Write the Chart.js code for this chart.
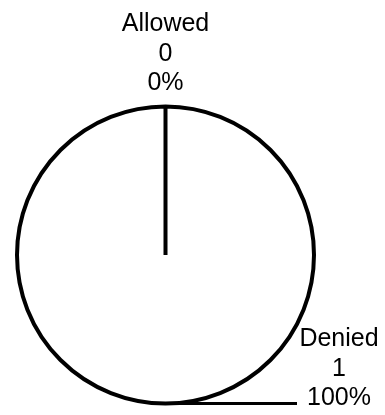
<!DOCTYPE html>
<html>
<head>
<meta charset="utf-8">
<script src="https://cdn.jsdelivr.net/npm/chart.js@4/dist/chart.umd.min.js"></script>
<style>
  html, body { margin: 0; padding: 0; background: #fff; }
  #wrap { width: 385px; height: 415px; }
</style>
</head>
<body>
<div id="wrap"><canvas id="pieChart"></canvas></div>
<script>
const categories = ['Allowed', 'Denied'];
const counts = [0, 1];

// labels: name / count / percent, stacked in three lines
const pieLabels = {
  id: 'pieLabels',
  afterDatasetsDraw(chart) {
    const { ctx } = chart;
    const meta = chart.getDatasetMeta(0);
    const total = counts.reduce((a, b) => a + b, 0);
    ctx.save();
    ctx.font = '25px "Liberation Sans", Arial, sans-serif';
    ctx.fillStyle = '#000';
    ctx.strokeStyle = '#000';
    ctx.textAlign = 'center';
    ctx.textBaseline = 'alphabetic';
    meta.data.forEach((arc, i) => {
      const { x, y, startAngle, endAngle, outerRadius } = arc.getProps(['x', 'y', 'startAngle', 'endAngle', 'outerRadius'], true);
      const mid = (startAngle + endAngle) / 2;
      const px = x + Math.cos(mid) * outerRadius;
      const py = y + Math.sin(mid) * outerRadius;
      const pct = total ? Math.round(counts[i] / total * 100) : 0;
      const lines = [categories[i], String(counts[i]), pct + '%'];
      let cx, base;
      if (Math.sin(mid) < -0.5) {
        // above the pie, centered
        cx = px;
        base = py - 16.5;
      } else {
        // leader line out to the right
        const endX = px + 131.5;
        ctx.lineWidth = 3;
        ctx.beginPath();
        ctx.moveTo(px, py);
        ctx.lineTo(endX, py);
        ctx.stroke();
        cx = endX + 42;
        base = py + 1.5;
      }
      for (let k = 0; k < lines.length; k++) {
        ctx.fillText(lines[k], cx, base - (lines.length - 1 - k) * 29.5);
      }
    });
    ctx.restore();
  }
};

new Chart(document.getElementById('pieChart'), {
  type: 'pie',
  data: {
    labels: categories,
    datasets: [{
      data: counts,
      backgroundColor: '#ffffff',
      borderColor: '#000000',
      borderWidth: 4
    }]
  },
  options: {
    responsive: true,
    maintainAspectRatio: false,
    animation: false,
    layout: { padding: { left: 15, right: 69, top: 104, bottom: 9 } },
    plugins: {
      legend: { display: false },
      tooltip: { enabled: false }
    }
  },
  plugins: [pieLabels]
});
</script>
</body>
</html>
